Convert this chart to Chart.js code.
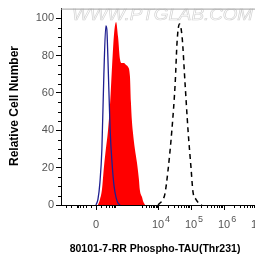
<!DOCTYPE html>
<html>
<head>
<meta charset="utf-8">
<script src="https://cdn.jsdelivr.net/npm/chart.js@4.4.1/dist/chart.umd.min.js"></script>
<style>
  html, body { margin: 0; padding: 0; background: #fff; }
  canvas { display: block; }
</style>
</head>
<body>
<canvas id="grafica" width="255" height="260"></canvas>
<script>
// posiciones en el eje x en "décadas" de la escala biexponencial (10^4 -> 4)
var xCero = 2.12;
var xTicksMayores = [xCero, 4, 5, 6, 7];
var xEtiquetas = [['0', ''], ['10', '4'], ['10', '5'], ['10', '6'], ['10', '7']];
var yTicks = [0, 20, 40, 60, 80, 100];

// control de isotipo (azul)
var isotipoX = [2.12, 2.18, 2.24, 2.30, 2.36, 2.42, 2.45, 2.48, 2.55, 2.61, 2.67, 2.73, 2.79, 2.85];
var isotipoY = [0, 3, 12, 30, 70, 96, 94, 80, 40, 22, 10, 4, 1, 0];

// muestra teñida (rojo relleno)
var muestraX = [2.18, 2.24, 2.30, 2.36, 2.42, 2.48, 2.55, 2.61, 2.67, 2.73, 2.79, 2.85, 2.91, 2.97, 3.03, 3.09, 3.15, 3.18, 3.21, 3.24, 3.30, 3.36, 3.42, 3.45, 3.52, 3.55, 3.61];
var muestraY = [0, 3, 8, 20, 30, 39, 55, 75, 92, 98, 90, 78, 76, 76, 75, 74, 69, 55, 45, 39, 30, 23, 14, 8, 4, 2, 0];

// control positivo (línea discontinua)
var controlX = [4.00, 4.03, 4.15, 4.21, 4.30, 4.42, 4.52, 4.58, 4.65, 4.73, 4.82, 4.91, 5.00, 5.06, 5.15, 5.27, 5.33];
var controlY = [0, 0.5, 3, 6, 18, 40, 65, 88, 97, 90, 65, 40, 20, 7, 3, 0.5, 0];

function puntos(xs, ys) {
    return xs.map((x, i) => ({ x: x, y: ys[i] }));
}

var fuente = "'Liberation Sans', Arial, sans-serif";

var pluginDecoracion = {
    id: 'decoracion',
    beforeDatasetsDraw: function(chart) {
        var ctx = chart.ctx;
        var area = chart.chartArea;
        // marca de agua
        ctx.save();
        ctx.beginPath();
        ctx.rect(area.left, area.top, area.right - area.left, area.bottom - area.top);
        ctx.clip();
        ctx.font = 'italic 16px ' + fuente;
        var texto = 'WWW.PTGLAB.COM';
        var ancho = ctx.measureText(texto).width;
        ctx.translate(72, 20);
        ctx.scale(181 / ancho, 1);
        ctx.strokeStyle = '#d2d2d2';
        ctx.lineWidth = 0.6;
        ctx.strokeText(texto, 0, 0);
        ctx.restore();
    },
    afterDraw: function(chart) {
        var ctx = chart.ctx;
        var area = chart.chartArea;
        var sx = chart.scales.x;
        var sy = chart.scales.y;
        ctx.save();

        // borde superior
        ctx.strokeStyle = '#a0a0a0';
        ctx.lineWidth = 1;
        ctx.beginPath();
        ctx.moveTo(area.left, area.top + 0.5);
        ctx.lineTo(area.right, area.top + 0.5);
        ctx.stroke();

        // ticks menores del eje y
        ctx.strokeStyle = '#000';
        ctx.beginPath();
        for (var v = 5; v <= 100; v += 5) {
            if (v % 20 === 0) continue;
            var py = Math.round(sy.getPixelForValue(v)) + 0.5;
            ctx.moveTo(area.left - 3, py);
            ctx.lineTo(area.left, py);
        }
        ctx.stroke();

        // ticks del eje x
        var base = area.bottom;
        ctx.beginPath();
        xTicksMayores.forEach(function(t) {
            var px = Math.round(sx.getPixelForValue(t)) + 0.5;
            ctx.moveTo(px, base);
            ctx.lineTo(px, base + 5);
        });
        var menores = [];
        [3, 4, 5, 6].forEach(function(d) {
            for (var k = 2; k <= 9; k++) menores.push(d + Math.log10(k) * (d === 3 ? 0.7 : 1) + (d === 3 ? 0.3 : 0));
        });
        [0.15, 0.3, 0.4, 0.48, 0.54, 0.58].forEach(function(o) {
            menores.push(xCero + o);
            menores.push(xCero - o);
        });
        menores.push(1.2, 1.35);
        menores.forEach(function(t) {
            if (t < sx.min || t > sx.max) return;
            var px = Math.round(sx.getPixelForValue(t)) + 0.5;
            ctx.moveTo(px, base);
            ctx.lineTo(px, base + 3);
        });
        ctx.stroke();

        // etiquetas del eje x
        ctx.fillStyle = '#555';
        xTicksMayores.forEach(function(t, i) {
            var px = sx.getPixelForValue(t);
            var e = xEtiquetas[i];
            ctx.font = '11px ' + fuente;
            ctx.textAlign = 'center';
            ctx.textBaseline = 'alphabetic';
            ctx.fillText(e[0], px, 228);
            if (e[1]) {
                var w = ctx.measureText(e[0]).width;
                ctx.font = '9px ' + fuente;
                ctx.textAlign = 'left';
                ctx.fillText(e[1], px + w / 2 + 1, 222);
            }
        });

        // títulos
        ctx.fillStyle = '#000';
        ctx.font = 'bold 10.5px ' + fuente;
        ctx.textAlign = 'center';
        ctx.textBaseline = 'middle';
        ctx.fillText('80101-7-RR Phospho-TAU(Thr231)', 155, 249);

        ctx.font = 'bold 12px ' + fuente;
        ctx.translate(15, 106);
        ctx.rotate(-Math.PI / 2);
        ctx.fillText('Relative Cell Number', 0, 0);
        ctx.restore();
    }
};

var grafica = new Chart(document.getElementById('grafica').getContext('2d'), {
    type: 'line',
    data: {
        datasets: [{
            label: 'isotipo',
            data: puntos(isotipoX, isotipoY),
            borderColor: '#1e1e90',
            borderWidth: 1.3,
            fill: false,
            order: 0
        }, {
            label: 'control',
            data: puntos(controlX, controlY),
            borderColor: '#000',
            borderWidth: 1.5,
            borderDash: [5, 4],
            fill: false,
            order: 1
        }, {
            label: 'muestra',
            data: puntos(muestraX, muestraY),
            borderColor: '#ff0000',
            borderWidth: 0,
            backgroundColor: '#ff0000',
            fill: 'origin',
            order: 2
        }]
    },
    options: {
        responsive: false,
        animation: false,
        layout: { padding: { top: 4, right: 0, left: 0, bottom: 0 } },
        elements: {
            point: { radius: 0 },
            line: { cubicInterpolationMode: 'monotone' }
        },
        plugins: {
            legend: { display: false },
            tooltip: { enabled: false }
        },
        scales: {
            x: {
                type: 'linear',
                min: 1.061,
                max: 6.939,
                ticks: { display: false },
                grid: { display: false },
                border: { display: true, color: '#000', width: 1 },
                afterFit: function(scale) { scale.height = 55; }
            },
            y: {
                min: 0,
                max: 105.2,
                afterBuildTicks: function(scale) {
                    scale.ticks = yTicks.map(v => ({ value: v }));
                },
                ticks: {
                    color: '#555',
                    font: { size: 11, family: fuente },
                    padding: 2
                },
                grid: {
                    drawOnChartArea: false,
                    drawTicks: true,
                    tickLength: 5,
                    color: '#000'
                },
                border: { display: true, color: '#000', width: 1 },
                afterFit: function(scale) { scale.width = 61; }
            }
        }
    },
    plugins: [pluginDecoracion]
});
</script>
</body>
</html>
